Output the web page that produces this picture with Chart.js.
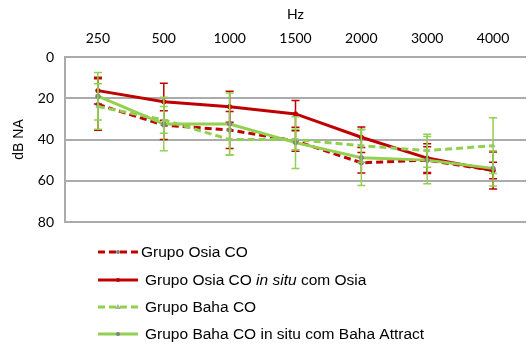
<!DOCTYPE html>
<html>
<head>
<meta charset="utf-8">
<script src="https://cdn.jsdelivr.net/npm/chart.js@4/dist/chart.umd.min.js"></script>
<style>
  html, body { margin: 0; padding: 0; background: #fff; overflow: hidden; }
  #wrap { width: 531px; height: 344px; }
</style>
</head>
<body>
<div id="wrap"><canvas id="c" width="531" height="344"></canvas></div>
<script>
// Frequencies (Hz) on the top axis
const categories = ['250', '500', '1000', '1500', '2000', '3000', '4000'];
const yTicks = [0, 20, 40, 60, 80];

// Mean thresholds (dB NA)
const osiaCO      = [23, 33, 35.4, 40.7, 51.3, 50, 55];
const osiaInSitu  = [16.3, 21.7, 24.1, 27.6, 38.9, 49, 55];
const bahaCO      = [24, 30.5, 40, 40, 43, 45.4, 43];
const bahaInSitu  = [19, 32.5, 32.5, 41.5, 48.8, 50, 54];

// Standard deviations (symmetric error bars)
const errOsiaCO     = [12.5, 7, 9, 5, 5, 6.5, 9];
const errOsiaInSitu = [6.5, 9, 7.5, 6.5, 5, 7, 4];
const errBahaCO     = [11, 6.5, 7.5, 5, 8, 8, 13.5];
const errBahaInSitu = [11.5, 13, 15, 12.5, 13.5, 11.5, 8.5];

// Legend text, split into [text, italic] runs
const legendOsiaCO     = [['Grupo Osia CO', false]];
const legendOsiaInSitu = [['Grupo Osia CO ', false], ['in situ', true], [' com Osia', false]];
const legendBahaCO     = [['Grupo Baha CO', false]];
const legendBahaInSitu = [['Grupo Baha CO in situ com Baha Attract', false]];

const RED = '#c00000';
const GREEN = '#92d050';

function ds(label, data, err, color, dash, ptColor, ptStyle, order, legendRuns, textX) {
  return {
    label, data, order,
    errors: err, legendRuns, legendTextX: textX,
    borderColor: color, backgroundColor: ptColor,
    borderWidth: 3, borderDash: dash,
    pointRadius: 2.2, pointStyle: ptStyle,
    pointBackgroundColor: ptColor, pointBorderColor: ptColor, pointBorderWidth: 1,
    tension: 0, fill: false
  };
}

const datasets = [
  ds('Grupo Osia CO', osiaCO, errOsiaCO, RED, [7, 4], '#808080', 'circle', 3, legendOsiaCO, 141),
  ds('Grupo Osia CO in situ com Osia', osiaInSitu, errOsiaInSitu, RED, [], RED, 'circle', 2, legendOsiaInSitu, 145),
  ds('Grupo Baha CO', bahaCO, errBahaCO, GREEN, [7, 4], '#a6b89a', 'triangle', 1, legendBahaCO, 145),
  ds('Grupo Baha CO in situ com Baha Attract', bahaInSitu, errBahaInSitu, GREEN, [], '#808080', 'circle', 0, legendBahaInSitu, 145)
];

// Draws each dataset's error bars right after its line
const errorBars = {
  id: 'errorBars',
  afterDatasetDraw(chart, args) {
    const dset = chart.data.datasets[args.index];
    const meta = args.meta;
    const y = chart.scales.y;
    const ctx = chart.ctx;
    ctx.save();
    ctx.strokeStyle = dset.borderColor;
    ctx.lineWidth = 1.5;
    ctx.setLineDash([]);
    meta.data.forEach((pt, i) => {
      const v = dset.data[i], e = dset.errors[i];
      const y1 = y.getPixelForValue(v - e), y2 = y.getPixelForValue(v + e);
      const x = pt.x;
      ctx.beginPath();
      ctx.moveTo(x, y1); ctx.lineTo(x, y2);
      ctx.moveTo(x - 4, y1); ctx.lineTo(x + 4, y1);
      ctx.moveTo(x - 4, y2); ctx.lineTo(x + 4, y2);
      ctx.stroke();
    });
    ctx.restore();
  }
};

// Vertical legend below the plot
const stackedLegend = {
  id: 'stackedLegend',
  afterDraw(chart) {
    const ctx = chart.ctx;
    const rows = [252, 280, 307, 334];
    const x0 = 98, x1 = 138;
    ctx.save();
    chart.data.datasets.forEach((d, i) => {
      const yy = rows[i];
      ctx.strokeStyle = d.borderColor;
      ctx.lineWidth = 3;
      ctx.setLineDash(d.borderDash);
      ctx.beginPath(); ctx.moveTo(x0, yy); ctx.lineTo(x1, yy); ctx.stroke();
      ctx.setLineDash([]);
      ctx.fillStyle = d.pointBackgroundColor;
      const mx = (x0 + x1) / 2;
      ctx.beginPath();
      if (d.pointStyle === 'triangle') {
        ctx.moveTo(mx, yy - 3); ctx.lineTo(mx + 3, yy + 2); ctx.lineTo(mx - 3, yy + 2); ctx.closePath();
      } else {
        ctx.arc(mx, yy, 2, 0, Math.PI * 2);
      }
      ctx.fill();
      let tx = d.legendTextX;
      ctx.fillStyle = '#000';
      ctx.textBaseline = 'middle';
      d.legendRuns.forEach(([t, it]) => {
        ctx.font = (it ? 'italic ' : '') + '15.5px "Liberation Sans", Arial, sans-serif';
        ctx.fillText(t, tx, yy + 1);
        tx += ctx.measureText(t).width;
      });
    });
    ctx.restore();
  }
};

new Chart(document.getElementById('c'), {
  type: 'line',
  data: { labels: categories, datasets },
  plugins: [errorBars, stackedLegend],
  options: {
    responsive: false,
    animation: false,
    layout: { padding: { left: 0, right: 0, top: 0, bottom: 122 } },
    plugins: { legend: { display: false }, tooltip: { enabled: false } },
    scales: {
      x: {
        position: 'top',
        offset: true,
        grid: { display: false, drawTicks: false },
        border: { display: false },
        ticks: { color: '#000', padding: 10, font: { family: 'Lato, "Liberation Sans", sans-serif', size: 14 } },
        title: { display: true, text: 'Hz', color: '#000', padding: { top: 6, bottom: 4 }, font: { family: 'Lato, "Liberation Sans", sans-serif', size: 14 } },
        afterFit(scale) { scale.height = 57; }
      },
      y: {
        reverse: true,
        min: 0, max: 80,
        afterBuildTicks(scale) { scale.ticks = yTicks.map(v => ({ value: v })); },
        grid: { color: '#ababab', lineWidth: 2, drawTicks: false },
        border: { display: true, color: '#ababab', width: 2 },
        ticks: { color: '#000', padding: 11, font: { family: 'Lato, "Liberation Sans", sans-serif', size: 14 } },
        title: { display: true, text: 'dB NA', color: '#000', padding: { top: 11, bottom: 0 }, font: { family: '"Liberation Sans", Arial, sans-serif', size: 14 } },
        afterFit(scale) { scale.width = 65; }
      }
    }
  }
});
</script>
</body>
</html>
